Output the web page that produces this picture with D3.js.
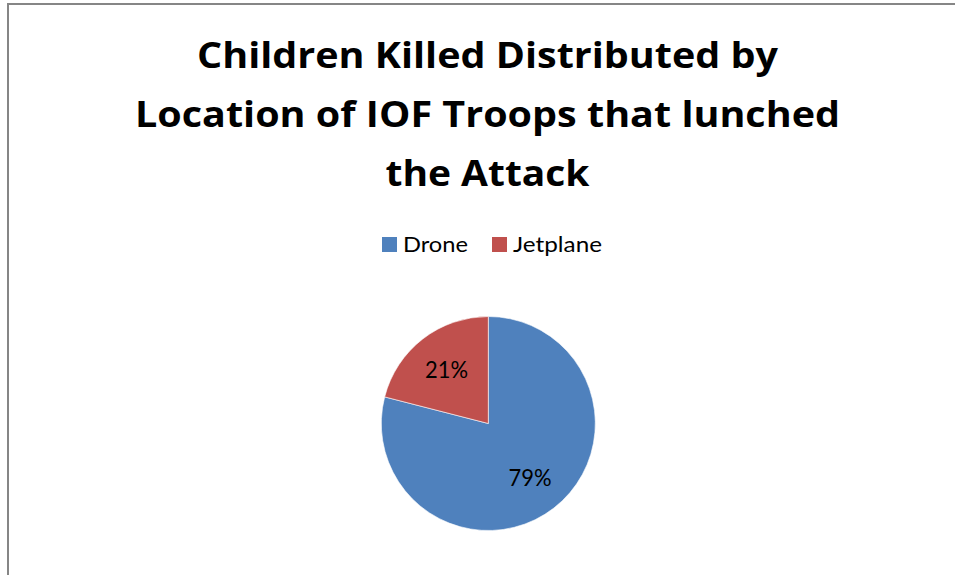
<!DOCTYPE html>
<html>
<head>
<meta charset="utf-8">
<script src="https://cdn.jsdelivr.net/npm/d3@7"></script>
<style>
  html, body { margin: 0; padding: 0; background: #fff; }
  svg { display: block; }
  text { font-family: Lato, "Open Sans", sans-serif; fill: #000; }
  .title text { font-family: "Open Sans", Lato, sans-serif; }
</style>
</head>
<body>
<svg id="chart" width="955" height="575"></svg>
<script>
// Share of children killed by the type of aircraft that launched the attack
const categories = ["Drone", "Jetplane"];
const shares = [79, 21];
const colors = ["#4F81BD", "#C0504D"];
const titleLines = [
  "Children Killed Distributed by",
  "Location of IOF Troops that lunched",
  "the Attack"
];

const svg = d3.select("#chart");
const W = 955, H = 575;

// chart area frame
svg.append("rect")
  .attr("x", 8).attr("y", 4)
  .attr("width", W + 20).attr("height", H + 20)
  .attr("fill", "#fff")
  .attr("stroke", "#868686")
  .attr("stroke-width", 2);

// title
const titleWidths = [581, 705, 204];
const title = svg.append("g").attr("class", "title");
titleLines.forEach((line, i) => {
  title.append("text")
    .attr("x", 487.5)
    .attr("y", 67.5 + i * 59)
    .attr("text-anchor", "middle")
    .attr("font-size", 36.5)
    .attr("font-weight", "bold")
    .attr("textLength", titleWidths[i])
    .attr("lengthAdjust", "spacingAndGlyphs")
    .text(line);
});

// legend
const legendItems = [
  { sq: 382, tx: 403, tw: 65 },
  { sq: 492, tx: 513, tw: 89 }
];
const legend = svg.append("g").attr("class", "legend");
categories.forEach((c, i) => {
  legend.append("rect")
    .attr("x", legendItems[i].sq).attr("y", 237)
    .attr("width", 15).attr("height", 15)
    .attr("fill", colors[i]);
  legend.append("text")
    .attr("x", legendItems[i].tx)
    .attr("y", 252)
    .attr("font-size", 21)
    .attr("textLength", legendItems[i].tw)
    .attr("lengthAdjust", "spacingAndGlyphs")
    .text(c);
});

// pie
const cx = 488.3, cy = 423.5, r = 107;
const color = d3.scaleOrdinal().domain(categories).range(colors);
const pie = d3.pie().sort(null).value(d => d.value);
const data = pie(categories.map((c, i) => ({ name: c, value: shares[i] })));
const arc = d3.arc().innerRadius(0).outerRadius(r);
const labelArc = d3.arc().innerRadius(68).outerRadius(68);

const g = svg.append("g").attr("transform", `translate(${cx},${cy})`);
g.selectAll("path.slice")
  .data(data)
  .join("path")
  .attr("class", "slice")
  .attr("d", arc)
  .attr("fill", d => color(d.data.name))
  .attr("stroke", "#fff")
  .attr("stroke-width", 0.6);

g.selectAll("text.pct")
  .data(data)
  .join("text")
  .attr("class", "pct")
  .attr("transform", d => `translate(${labelArc.centroid(d)})`)
  .attr("text-anchor", "middle")
  .attr("dy", "0.36em")
  .attr("font-size", 23)
  .attr("textLength", 43)
  .attr("lengthAdjust", "spacingAndGlyphs")
  .text(d => d.data.value + "%");
</script>
</body>
</html>
